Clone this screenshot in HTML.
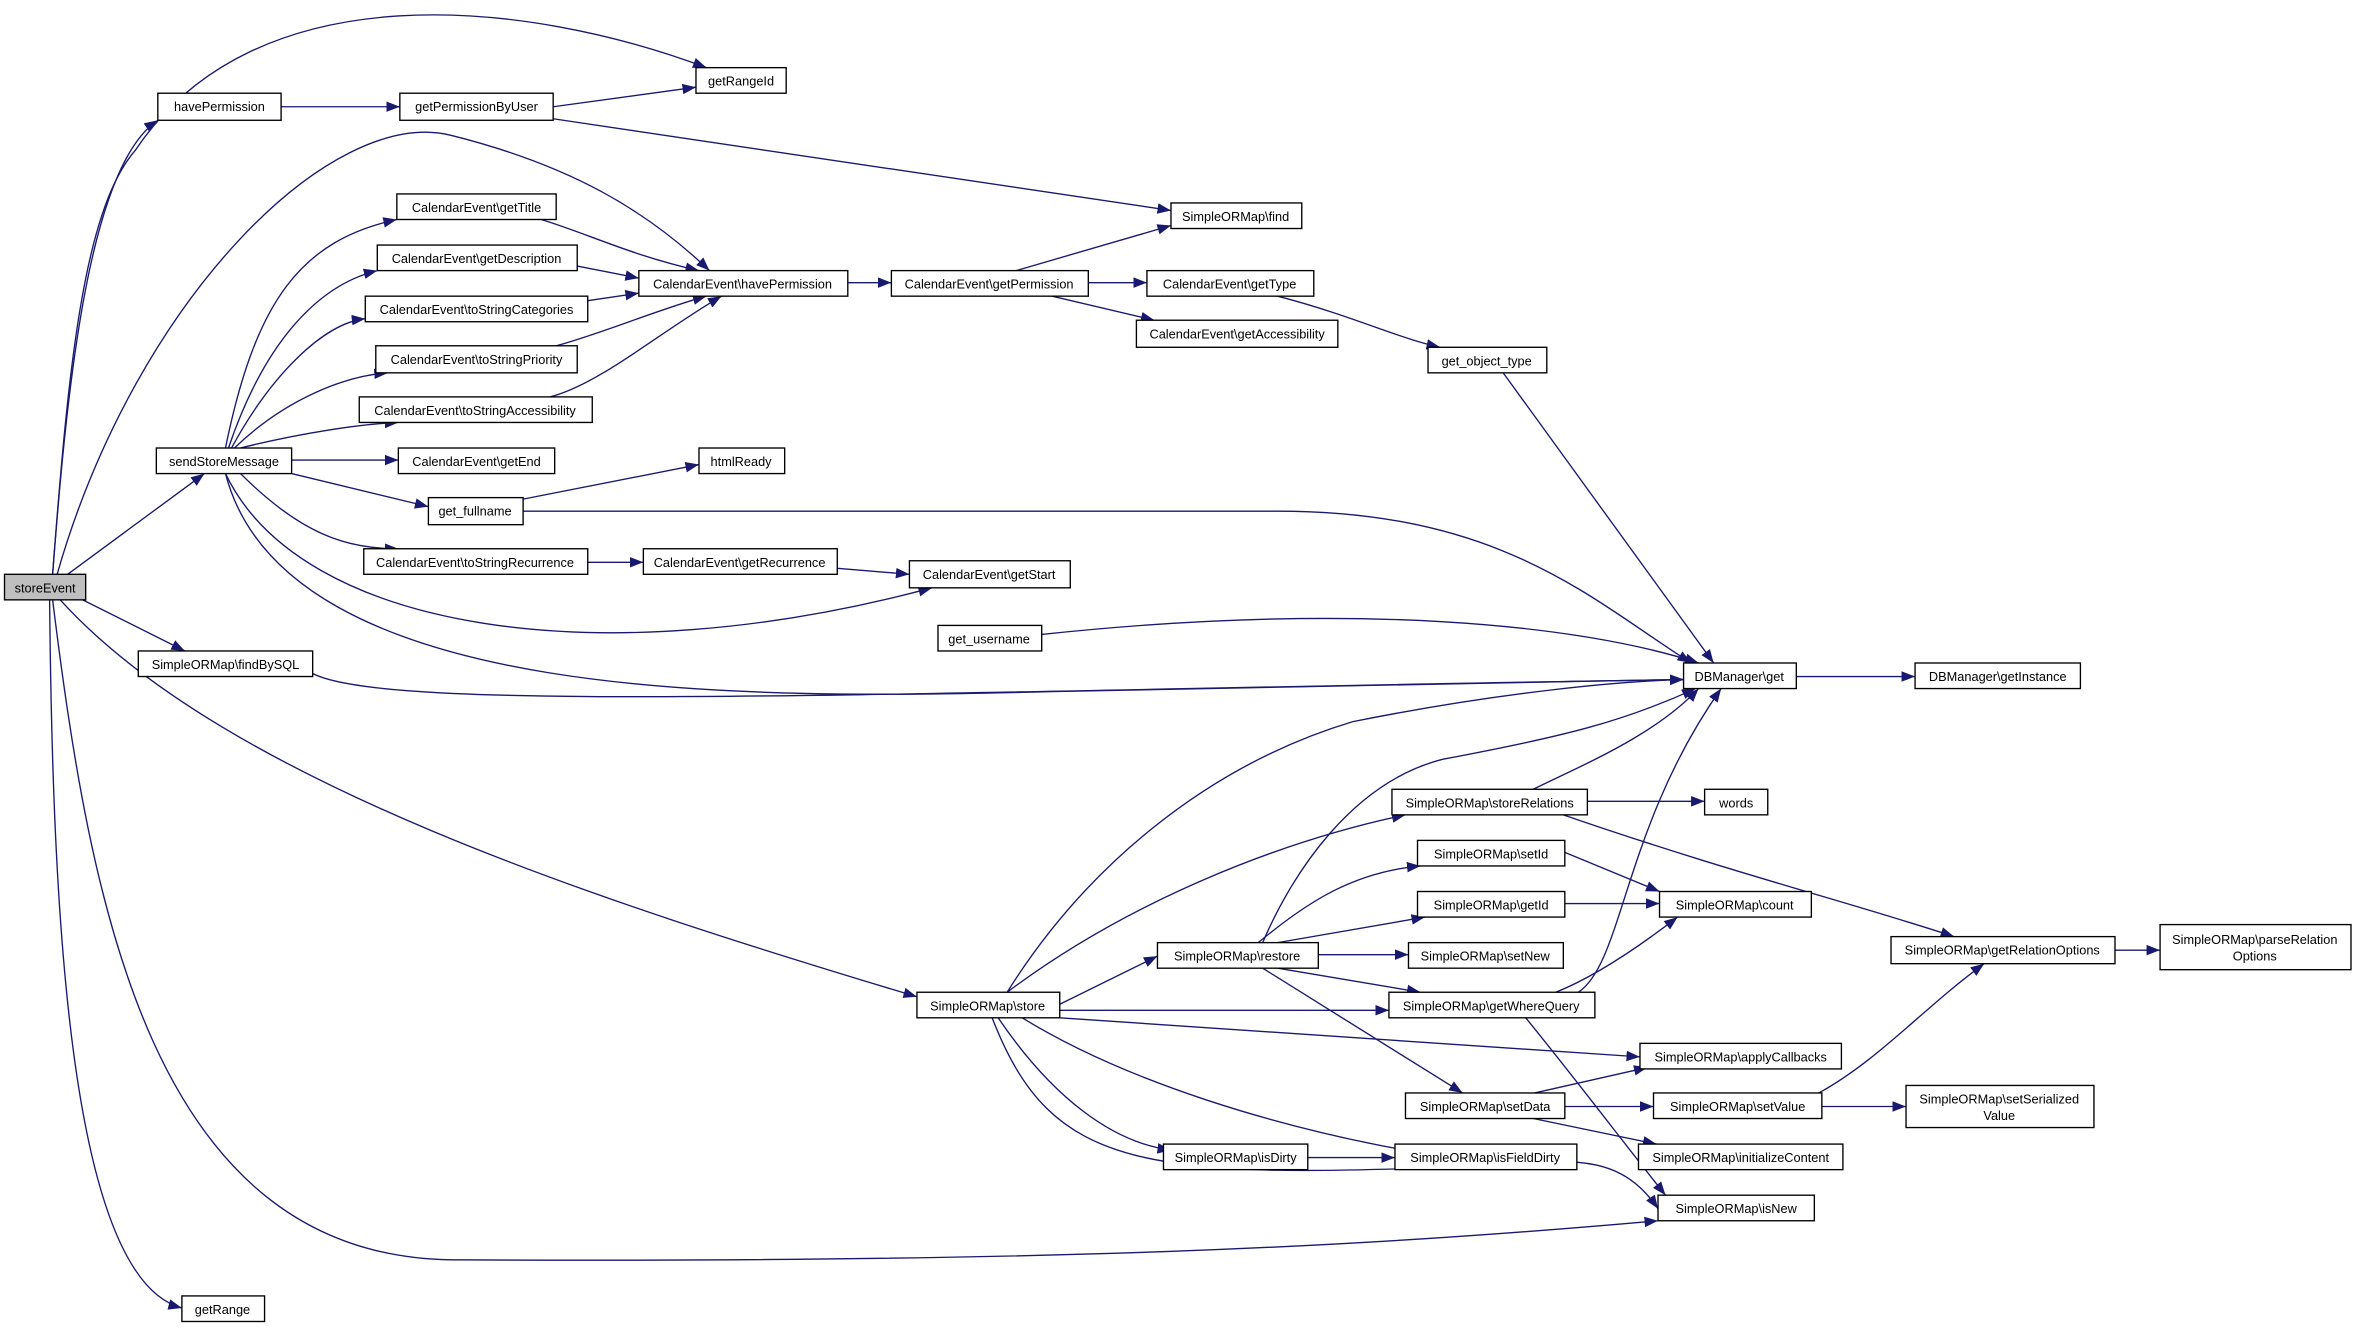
<!DOCTYPE html>
<html><head><meta charset="utf-8"><style>html,body{margin:0;padding:0;background:#fff}svg{display:block}</style></head>
<body>
<svg width="2357" height="1329" viewBox="0 0 1568 884" preserveAspectRatio="none" xmlns="http://www.w3.org/2000/svg">
<defs><marker id="a" markerUnits="userSpaceOnUse" markerWidth="10" markerHeight="8" refX="9" refY="4" orient="auto"><path d="M0,0.5 L9,4 L0,7.5 z" fill="#191970"/></marker></defs>
<g fill="none" stroke="#191970" stroke-width="0.9" marker-end="url(#a)">
<path d="M35,382 C45,250 55,140 90,100 C170,-20 350,0 470,45"/>
<path d="M35,382 C45,250 60,110 105,80"/>
<path d="M38,382 C90,200 220,70 300,90 C380,110 430,140 472,180"/>
<path d="M45,382 L136,315"/>
<path d="M55,399 L123,433"/>
<path d="M40,399 C150,520 400,600 610,663"/>
<path d="M35,399 C60,600 100,835 300,838 C700,840 900,830 1103,812"/>
<path d="M33,399 C35,600 45,850 121,870"/>
<path d="M187,71 L266,71"/>
<path d="M368,71 L463,58"/>
<path d="M368,79 L779,140"/>
<path d="M150,298 C170,200 200,160 264,146"/>
<path d="M152,298 C175,230 210,190 251,180"/>
<path d="M154,298 C180,250 215,215 243,212"/>
<path d="M156,298 C190,265 230,250 258,248"/>
<path d="M160,298 C200,288 240,282 265,281"/>
<path d="M194,306 L265,306"/>
<path d="M194,315 L285,337"/>
<path d="M160,315 C200,355 230,365 265,365"/>
<path d="M150,315 C200,420 400,450 620,391"/>
<path d="M150,315 C190,470 500,465 700,460 C900,456 1000,454 1120,452"/>
<path d="M348,332 L465,309"/>
<path d="M348,340 L850,340 C1000,340 1060,400 1125,441"/>
<path d="M360,146 C390,155 420,170 465,180"/>
<path d="M384,177 L425,185"/>
<path d="M391,200 L425,195"/>
<path d="M370,230 C400,222 440,205 470,197"/>
<path d="M366,264 C400,255 440,220 480,197"/>
<path d="M564,188 L593,188"/>
<path d="M676,180 L779,150"/>
<path d="M724,188 L763,188"/>
<path d="M700,197 L768,213"/>
<path d="M850,197 C900,210 930,225 958,231"/>
<path d="M1000,248 L1140,441"/>
<path d="M391,374 L428,374"/>
<path d="M557,378 L605,382"/>
<path d="M693,422 C900,400 1050,415 1130,441"/>
<path d="M208,448 C260,475 600,460 1120,452"/>
<path d="M1195,450 L1274,450"/>
<path d="M670,660 C720,580 800,510 900,480 C1000,460 1080,453 1120,452"/>
<path d="M670,660 C750,600 850,560 935,542"/>
<path d="M705,668 L770,636"/>
<path d="M705,672 L924,672"/>
<path d="M705,677 L1091,703"/>
<path d="M680,677 C750,720 850,750 940,766"/>
<path d="M664,677 C700,730 740,760 779,765"/>
<path d="M660,677 C700,780 760,785 1000,775 C1050,770 1080,770 1103,804"/>
<path d="M1020,525 C1050,510 1100,490 1130,458"/>
<path d="M1056,533 L1134,533"/>
<path d="M1040,542 C1150,580 1230,600 1300,623"/>
<path d="M840,627 C860,580 900,520 960,505 C1040,490 1080,480 1128,458"/>
<path d="M837,627 C870,600 900,580 945,576"/>
<path d="M850,627 L948,610"/>
<path d="M877,635 L937,635"/>
<path d="M850,644 L945,660"/>
<path d="M840,644 L973,727"/>
<path d="M1041,567 L1104,593"/>
<path d="M1041,601 L1104,601"/>
<path d="M1035,660 C1060,650 1090,630 1116,610"/>
<path d="M1050,660 C1080,640 1080,550 1145,458"/>
<path d="M1015,677 C1050,720 1080,760 1108,795"/>
<path d="M1021,727 L1096,710"/>
<path d="M1041,736 L1100,736"/>
<path d="M1020,744 L1102,761"/>
<path d="M1212,736 L1268,736"/>
<path d="M1210,727 C1250,705 1280,670 1320,641"/>
<path d="M870,770 L928,770"/>
<path d="M1407,632 L1437,632"/>
</g>
<g stroke="#000" stroke-width="0.9" fill="#fff">
<rect x="3" y="382" width="54" height="17" fill="#bfbfbf"/>
<rect x="105" y="62" width="82" height="18"/>
<rect x="266" y="62" width="102" height="18"/>
<rect x="463" y="45" width="60" height="17"/>
<rect x="104" y="298" width="90" height="17"/>
<rect x="264" y="129" width="106" height="17"/>
<rect x="251" y="163" width="133" height="17"/>
<rect x="243" y="197" width="148" height="17"/>
<rect x="250" y="230" width="134" height="18"/>
<rect x="239" y="264" width="155" height="17"/>
<rect x="265" y="298" width="104" height="17"/>
<rect x="285" y="331" width="63" height="18"/>
<rect x="242" y="365" width="149" height="17"/>
<rect x="425" y="180" width="139" height="17"/>
<rect x="593" y="180" width="131" height="17"/>
<rect x="428" y="365" width="129" height="17"/>
<rect x="605" y="373" width="107" height="18"/>
<rect x="465" y="298" width="57" height="17"/>
<rect x="624" y="416" width="69" height="17"/>
<rect x="779" y="135" width="87" height="17"/>
<rect x="763" y="180" width="111" height="17"/>
<rect x="756" y="213" width="134" height="18"/>
<rect x="950" y="231" width="79" height="17"/>
<rect x="92" y="433" width="116" height="17"/>
<rect x="1120" y="441" width="75" height="17"/>
<rect x="1274" y="441" width="110" height="17"/>
<rect x="926" y="525" width="130" height="17"/>
<rect x="1134" y="525" width="42" height="17"/>
<rect x="943" y="559" width="98" height="17"/>
<rect x="943" y="593" width="98" height="17"/>
<rect x="1104" y="593" width="101" height="17"/>
<rect x="770" y="627" width="107" height="17"/>
<rect x="937" y="627" width="103" height="17"/>
<rect x="924" y="660" width="137" height="17"/>
<rect x="610" y="660" width="95" height="17"/>
<rect x="1091" y="694" width="134" height="17"/>
<rect x="935" y="727" width="106" height="17"/>
<rect x="1100" y="727" width="112" height="17"/>
<rect x="1090" y="761" width="136" height="17"/>
<rect x="774" y="761" width="96" height="17"/>
<rect x="928" y="761" width="121" height="17"/>
<rect x="1103" y="795" width="104" height="17"/>
<rect x="1258" y="623" width="149" height="18"/>
<rect x="1437" y="615" width="127" height="30"/>
<rect x="1268" y="722" width="125" height="28"/>
<rect x="121" y="862" width="55" height="17"/>
</g>
<g font-family="Liberation Sans, sans-serif" font-size="8.5" fill="#000" text-anchor="middle">
<text x="30" y="394">storeEvent</text>
<text x="146" y="74">havePermission</text>
<text x="317" y="74">getPermissionByUser</text>
<text x="493" y="57">getRangeId</text>
<text x="149" y="310">sendStoreMessage</text>
<text x="317" y="141">CalendarEvent\getTitle</text>
<text x="317" y="175">CalendarEvent\getDescription</text>
<text x="317" y="209">CalendarEvent\toStringCategories</text>
<text x="317" y="242">CalendarEvent\toStringPriority</text>
<text x="316" y="276">CalendarEvent\toStringAccessibility</text>
<text x="317" y="310">CalendarEvent\getEnd</text>
<text x="316" y="343">get_fullname</text>
<text x="316" y="377">CalendarEvent\toStringRecurrence</text>
<text x="494" y="192">CalendarEvent\havePermission</text>
<text x="658" y="192">CalendarEvent\getPermission</text>
<text x="492" y="377">CalendarEvent\getRecurrence</text>
<text x="658" y="385">CalendarEvent\getStart</text>
<text x="493" y="310">htmlReady</text>
<text x="658" y="428">get_username</text>
<text x="822" y="147">SimpleORMap\find</text>
<text x="818" y="192">CalendarEvent\getType</text>
<text x="823" y="225">CalendarEvent\getAccessibility</text>
<text x="989" y="243">get_object_type</text>
<text x="150" y="445">SimpleORMap\findBySQL</text>
<text x="1157" y="453">DBManager\get</text>
<text x="1329" y="453">DBManager\getInstance</text>
<text x="991" y="537">SimpleORMap\storeRelations</text>
<text x="1155" y="537">words</text>
<text x="992" y="571">SimpleORMap\setId</text>
<text x="992" y="605">SimpleORMap\getId</text>
<text x="1154" y="605">SimpleORMap\count</text>
<text x="823" y="639">SimpleORMap\restore</text>
<text x="988" y="639">SimpleORMap\setNew</text>
<text x="992" y="672">SimpleORMap\getWhereQuery</text>
<text x="657" y="672">SimpleORMap\store</text>
<text x="1158" y="706">SimpleORMap\applyCallbacks</text>
<text x="988" y="739">SimpleORMap\setData</text>
<text x="1156" y="739">SimpleORMap\setValue</text>
<text x="1158" y="773">SimpleORMap\initializeContent</text>
<text x="822" y="773">SimpleORMap\isDirty</text>
<text x="988" y="773">SimpleORMap\isFieldDirty</text>
<text x="1155" y="807">SimpleORMap\isNew</text>
<text x="1332" y="635">SimpleORMap\getRelationOptions</text>
<text x="1500" y="628">SimpleORMap\parseRelation</text>
<text x="1500" y="639">Options</text>
<text x="1330" y="734">SimpleORMap\setSerialized</text>
<text x="1330" y="745">Value</text>
<text x="148" y="874">getRange</text>
</g>
</svg>
</body></html>
